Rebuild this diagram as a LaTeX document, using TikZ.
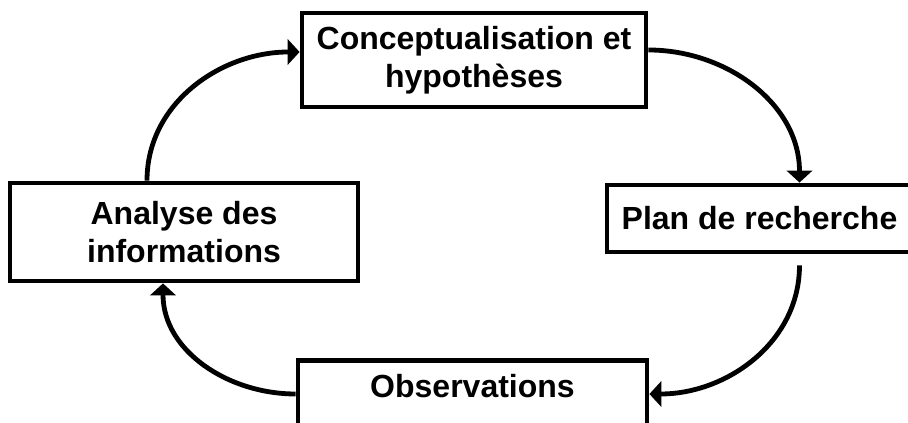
\documentclass[tikz,border=0pt]{standalone}
\usepackage{fontspec}
\setmainfont{Liberation Sans}
\usetikzlibrary{positioning, calc, arrows.meta}

\begin{document}
\begin{tikzpicture}[x=0.75pt, y=0.75pt,
etape/.style= {rectangle, align=center, line width=3.6pt, draw=black, font=\fontsize{24}{28.5}\selectfont\bfseries},
fleche/.style= {line width=3.6pt, -{Triangle[width=19pt, length=9pt]}} ]
\useasboundingbox (0,0) rectangle (908,423);
\clip (0,0) rectangle (908,423);
\node (C) [etape, minimum width=258pt, minimum height=70.5pt] at (474,363) {Conceptualisation et\\hypothèses};
\node (P) [etape, minimum width=228.75pt, minimum height=50.25pt] at (759.5,204.5) {Plan de recherche};
\node (O) [etape, minimum width=261.75pt, inner ysep=0pt, text height=27.75pt, text depth=42.75pt, anchor=north] at (472.5,65) {Observations};
\node (A) [etape, minimum width=261pt, minimum height=73.5pt] at (184,191) {Analyse des\\informations};
\path ($(A.north)+(-37,0)$) edge[fleche, out=90, in=180] ($(C.west)+(0,8)$);
\path ($(C.east)+(0,10)$) edge[fleche, out=0, in=90] ($(P.north)+(40,0)$);
\path ($(P.south)+(40,-11)$) edge[fleche, out=-90, in=0] ($(O.north east)+(0,-36)$);
\path ($(O.north west)+(0,-36)$) edge[fleche, out=180, in=-90] ($(A.south)+(-21,0)$);
\end{tikzpicture}
\end{document}
